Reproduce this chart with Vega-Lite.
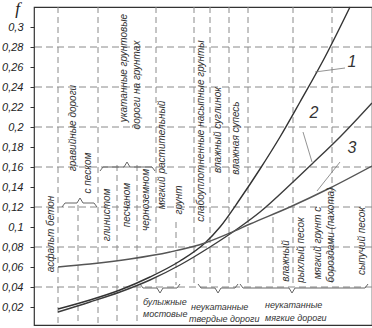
{
  "$schema": "https://vega.github.io/schema/vega-lite/v6.json",
  "width": 338,
  "height": 318,
  "autosize": {"type": "none"},
  "padding": {"left": 34, "top": 7, "right": 0, "bottom": 3},
  "background": "white",
  "config": {
    "view": {"stroke": "#333", "strokeWidth": 1.2},
    "axisY": {
      "domain": false, "grid": false,
      "tickSize": 4, "tickColor": "#333", "tickWidth": 1,
      "labelFont": "Liberation Sans", "labelFontStyle": "italic", "labelFontSize": 11, "labelColor": "#222", "labelPadding": 7,
      "titleAngle": 0, "titleFont": "Liberation Serif", "titleFontStyle": "italic", "titleFontWeight": "normal",
      "titleFontSize": 17, "titleColor": "#222", "titleX": -17, "titleY": 1, "titleAlign": "center", "titleBaseline": "middle"
    }
  },
  "datasets": {
    "hgrid": [{"f": 0.04}, {"f": 0.08}, {"f": 0.12}, {"f": 0.16}, {"f": 0.2}, {"f": 0.24}, {"f": 0.28}],
    "vlines": [
      {"x": 24, "f": 0.32, "f2": 0.002},
      {"x": 44, "f": 0.122, "f2": 0.002},
      {"x": 64, "f": 0.32, "f2": 0.002},
      {"x": 83, "f": 0.162, "f2": 0.002},
      {"x": 103, "f": 0.162, "f2": 0.002},
      {"x": 122, "f": 0.32, "f2": 0.042},
      {"x": 142, "f": 0.105, "f2": 0.042},
      {"x": 160, "f": 0.32, "f2": 0.042},
      {"x": 176, "f": 0.32, "f2": 0.042},
      {"x": 195, "f": 0.32, "f2": 0.042},
      {"x": 214, "f": 0.32, "f2": 0.042},
      {"x": 239, "f": 0.11, "f2": 0.042},
      {"x": 259, "f": 0.32, "f2": 0.042},
      {"x": 298, "f": 0.32, "f2": 0.042}
    ],
    "braces": [
      {"id": "b1", "o": 1, "x": 106, "f": 0.043}, {"id": "b1", "o": 2, "x": 109, "f": 0.039}, {"id": "b1", "o": 3, "x": 123, "f": 0.039}, {"id": "b1", "o": 4, "x": 126, "f": 0.034}, {"id": "b1", "o": 5, "x": 129, "f": 0.039}, {"id": "b1", "o": 6, "x": 143, "f": 0.039}, {"id": "b1", "o": 7, "x": 146, "f": 0.043},
      {"id": "b2", "o": 1, "x": 164, "f": 0.043}, {"id": "b2", "o": 2, "x": 167, "f": 0.039}, {"id": "b2", "o": 3, "x": 181, "f": 0.039}, {"id": "b2", "o": 4, "x": 184, "f": 0.034}, {"id": "b2", "o": 5, "x": 187, "f": 0.039}, {"id": "b2", "o": 6, "x": 201, "f": 0.039}, {"id": "b2", "o": 7, "x": 204, "f": 0.043},
      {"id": "b3", "o": 1, "x": 206, "f": 0.043}, {"id": "b3", "o": 2, "x": 209, "f": 0.039}, {"id": "b3", "o": 3, "x": 255, "f": 0.039}, {"id": "b3", "o": 4, "x": 258, "f": 0.034}, {"id": "b3", "o": 5, "x": 261, "f": 0.039}, {"id": "b3", "o": 6, "x": 331, "f": 0.039}, {"id": "b3", "o": 7, "x": 334, "f": 0.043},
      {"id": "b4", "o": 1, "x": 28, "f": 0.12}, {"id": "b4", "o": 2, "x": 31, "f": 0.124}, {"id": "b4", "o": 3, "x": 43, "f": 0.124}, {"id": "b4", "o": 4, "x": 46, "f": 0.129}, {"id": "b4", "o": 5, "x": 49, "f": 0.124}, {"id": "b4", "o": 6, "x": 60, "f": 0.124}, {"id": "b4", "o": 7, "x": 63, "f": 0.12},
      {"id": "b5", "o": 1, "x": 66, "f": 0.156}, {"id": "b5", "o": 2, "x": 69, "f": 0.16}, {"id": "b5", "o": 3, "x": 90, "f": 0.16}, {"id": "b5", "o": 4, "x": 93, "f": 0.165}, {"id": "b5", "o": 5, "x": 96, "f": 0.16}, {"id": "b5", "o": 6, "x": 118, "f": 0.16}, {"id": "b5", "o": 7, "x": 121, "f": 0.156}
    ],
    "curves": [
      {"c": "1", "x": 24, "f": 0.018}, {"c": "1", "x": 56, "f": 0.027}, {"c": "1", "x": 86, "f": 0.037}, {"c": "1", "x": 116, "f": 0.05}, {"c": "1", "x": 146, "f": 0.066}, {"c": "1", "x": 171, "f": 0.084}, {"c": "1", "x": 186, "f": 0.1}, {"c": "1", "x": 206, "f": 0.128}, {"c": "1", "x": 226, "f": 0.158}, {"c": "1", "x": 246, "f": 0.19}, {"c": "1", "x": 266, "f": 0.225}, {"c": "1", "x": 291, "f": 0.27}, {"c": "1", "x": 316, "f": 0.32},
      {"c": "2", "x": 24, "f": 0.015}, {"c": "2", "x": 56, "f": 0.025}, {"c": "2", "x": 86, "f": 0.035}, {"c": "2", "x": 116, "f": 0.047}, {"c": "2", "x": 146, "f": 0.062}, {"c": "2", "x": 176, "f": 0.08}, {"c": "2", "x": 206, "f": 0.1}, {"c": "2", "x": 226, "f": 0.115}, {"c": "2", "x": 259, "f": 0.145}, {"c": "2", "x": 278, "f": 0.163}, {"c": "2", "x": 306, "f": 0.19}, {"c": "2", "x": 338, "f": 0.224},
      {"c": "3", "x": 24, "f": 0.06}, {"c": "3", "x": 56, "f": 0.063}, {"c": "3", "x": 96, "f": 0.068}, {"c": "3", "x": 136, "f": 0.075}, {"c": "3", "x": 171, "f": 0.084}, {"c": "3", "x": 196, "f": 0.094}, {"c": "3", "x": 216, "f": 0.103}, {"c": "3", "x": 256, "f": 0.12}, {"c": "3", "x": 296, "f": 0.139}, {"c": "3", "x": 338, "f": 0.161}
    ],
    "leaders": [
      {"x": 281, "f": 0.255, "x2": 311, "f2": 0.259},
      {"x": 269, "f": 0.195, "x2": 278, "f2": 0.165},
      {"x": 306, "f": 0.165, "x2": 283, "f2": 0.136}
    ],
    "numbers": [
      {"t": "1", "x": 318, "f": 0.265},
      {"t": "2", "x": 280, "f": 0.214},
      {"t": "3", "x": 318, "f": 0.179}
    ],
    "vtext": [
      {"t": "асфальт бетон", "x": 17, "f": 0.093},
      {"t": "гравийные дороги", "x": 39, "f": 0.199},
      {"t": "с песком", "x": 54, "f": 0.154},
      {"t": "укатанные грунтовые", "x": 90, "f": 0.259},
      {"t": "дороги на грунтах", "x": 103, "f": 0.242},
      {"t": "глинистом", "x": 73, "f": 0.112},
      {"t": "песчаном", "x": 93, "f": 0.122},
      {"t": "черноземном", "x": 112, "f": 0.127},
      {"t": "мягкий растительный", "x": 128, "f": 0.172},
      {"t": "грунт", "x": 145, "f": 0.127},
      {"t": "слабоуплотненные насыпные грунты", "x": 167, "f": 0.196},
      {"t": "влажный суглинок", "x": 184, "f": 0.197},
      {"t": "влажная супесь", "x": 202, "f": 0.189},
      {"t": "влажный", "x": 252, "f": 0.066},
      {"t": "рыхлый песок", "x": 267, "f": 0.077},
      {"t": "мягкий грунт с", "x": 284, "f": 0.084},
      {"t": "бороздами (пахота)", "x": 297, "f": 0.092},
      {"t": "сыпучий песок", "x": 328, "f": 0.086}
    ],
    "htext": [
      {"t": "булыжные", "x": 109, "f": 0.025},
      {"t": "мостовые", "x": 109, "f": 0.013},
      {"t": "неукатанные", "x": 157, "f": 0.02},
      {"t": "твердые дороги", "x": 155, "f": 0.008},
      {"t": "неукатанные", "x": 231, "f": 0.022},
      {"t": "мягкие дороги", "x": 231, "f": 0.009}
    ]
  },
  "layer": [
    {
      "data": {"name": "hgrid"},
      "mark": {"type": "rule", "color": "#8a8a8a", "strokeWidth": 1, "strokeDash": [7, 4]},
      "encoding": {
        "y": {
          "field": "f", "type": "quantitative", "title": "f",
          "scale": {"domain": [0.002, 0.32], "nice": false, "zero": false},
          "axis": {"values": [0.02, 0.04, 0.06, 0.08, 0.1, 0.12, 0.14, 0.16, 0.18, 0.2, 0.22, 0.24, 0.26, 0.28, 0.3], "labelExpr": "replace(format(datum.value, '.2~f'), '.', ',')", "title": "f"}
        }
      }
    },
    {
      "data": {"name": "vlines"},
      "mark": {"type": "rule", "color": "#8a8a8a", "strokeWidth": 1, "strokeDash": [6, 4]},
      "encoding": {
        "x": {"field": "x", "type": "quantitative", "scale": {"domain": [0, 338], "nice": false, "zero": false}, "axis": null},
        "y": {"field": "f", "type": "quantitative", "title": "f", "axis": {"values": [0.02, 0.04, 0.06, 0.08, 0.1, 0.12, 0.14, 0.16, 0.18, 0.2, 0.22, 0.24, 0.26, 0.28, 0.3], "labelExpr": "replace(format(datum.value, '.2~f'), '.', ',')", "title": "f"}},
        "y2": {"field": "f2"}
      }
    },
    {
      "data": {"name": "braces"},
      "mark": {"type": "line", "color": "#666", "strokeWidth": 1},
      "encoding": {
        "x": {"field": "x", "type": "quantitative", "axis": null},
        "y": {"field": "f", "type": "quantitative", "title": "f", "axis": {"values": [0.02, 0.04, 0.06, 0.08, 0.1, 0.12, 0.14, 0.16, 0.18, 0.2, 0.22, 0.24, 0.26, 0.28, 0.3], "labelExpr": "replace(format(datum.value, '.2~f'), '.', ',')", "title": "f"}},
        "detail": {"field": "id"},
        "order": {"field": "o"}
      }
    },
    {
      "data": {"name": "curves"},
      "mark": {"type": "line", "strokeWidth": 1.4, "interpolate": "monotone"},
      "encoding": {
        "x": {"field": "x", "type": "quantitative", "axis": null},
        "y": {"field": "f", "type": "quantitative", "title": "f", "axis": {"values": [0.02, 0.04, 0.06, 0.08, 0.1, 0.12, 0.14, 0.16, 0.18, 0.2, 0.22, 0.24, 0.26, 0.28, 0.3], "labelExpr": "replace(format(datum.value, '.2~f'), '.', ',')", "title": "f"}},
        "color": {"field": "c", "type": "nominal", "scale": {"domain": ["1", "2", "3"], "range": ["#333", "#3c3c3c", "#555"]}, "legend": null}
      }
    },
    {
      "data": {"name": "leaders"},
      "mark": {"type": "rule", "color": "#777", "strokeWidth": 0.8},
      "encoding": {
        "x": {"field": "x", "type": "quantitative", "axis": null},
        "y": {"field": "f", "type": "quantitative", "title": "f", "axis": {"values": [0.02, 0.04, 0.06, 0.08, 0.1, 0.12, 0.14, 0.16, 0.18, 0.2, 0.22, 0.24, 0.26, 0.28, 0.3], "labelExpr": "replace(format(datum.value, '.2~f'), '.', ',')", "title": "f"}},
        "x2": {"field": "x2"},
        "y2": {"field": "f2"}
      }
    },
    {
      "data": {"name": "numbers"},
      "mark": {"type": "text", "font": "Liberation Sans", "fontStyle": "italic", "fontSize": 16, "color": "#333", "align": "center", "baseline": "middle"},
      "encoding": {
        "x": {"field": "x", "type": "quantitative", "axis": null},
        "y": {"field": "f", "type": "quantitative", "title": "f", "axis": {"values": [0.02, 0.04, 0.06, 0.08, 0.1, 0.12, 0.14, 0.16, 0.18, 0.2, 0.22, 0.24, 0.26, 0.28, 0.3], "labelExpr": "replace(format(datum.value, '.2~f'), '.', ',')", "title": "f"}},
        "text": {"field": "t"}
      }
    },
    {
      "data": {"name": "vtext"},
      "mark": {"type": "text", "angle": 270, "font": "Liberation Sans", "fontStyle": "italic", "fontSize": 10, "color": "#333", "align": "center", "baseline": "middle"},
      "encoding": {
        "x": {"field": "x", "type": "quantitative", "axis": null},
        "y": {"field": "f", "type": "quantitative", "title": "f", "axis": {"values": [0.02, 0.04, 0.06, 0.08, 0.1, 0.12, 0.14, 0.16, 0.18, 0.2, 0.22, 0.24, 0.26, 0.28, 0.3], "labelExpr": "replace(format(datum.value, '.2~f'), '.', ',')", "title": "f"}},
        "text": {"field": "t"}
      }
    },
    {
      "data": {"name": "htext"},
      "mark": {"type": "text", "font": "Liberation Sans", "fontStyle": "italic", "fontSize": 9, "color": "#333", "align": "left", "baseline": "middle"},
      "encoding": {
        "x": {"field": "x", "type": "quantitative", "axis": null},
        "y": {"field": "f", "type": "quantitative", "title": "f", "axis": {"values": [0.02, 0.04, 0.06, 0.08, 0.1, 0.12, 0.14, 0.16, 0.18, 0.2, 0.22, 0.24, 0.26, 0.28, 0.3], "labelExpr": "replace(format(datum.value, '.2~f'), '.', ',')", "title": "f"}},
        "text": {"field": "t"}
      }
    }
  ]
}
